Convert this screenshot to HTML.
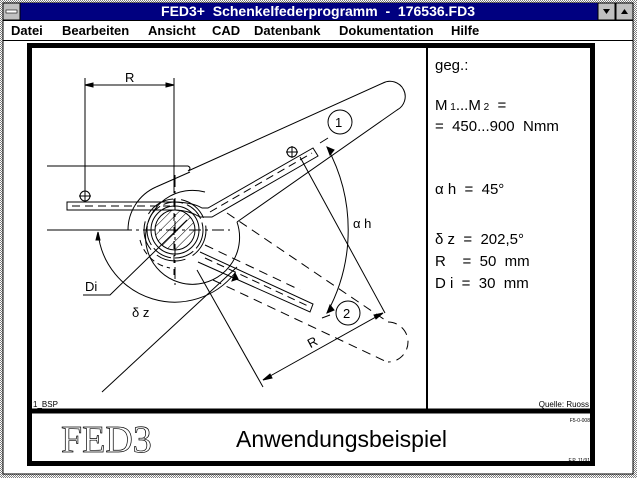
<!DOCTYPE html>
<html><head><meta charset="utf-8"><style>
body{margin:0;width:637px;height:478px;overflow:hidden;background:#fff;font-family:"Liberation Sans",sans-serif}
text{white-space:pre}
</style></head><body>
<svg width="637" height="478" xmlns="http://www.w3.org/2000/svg" font-family="Liberation Sans, sans-serif">
<defs>
<pattern id="hat" width="2" height="2" patternUnits="userSpaceOnUse"><rect width="2" height="2" fill="#fff"/><rect width="1" height="1" fill="#808080"/><rect x="1" y="1" width="1" height="1" fill="#808080"/></pattern>
<pattern id="sh" width="6" height="6" patternUnits="userSpaceOnUse" patternTransform="rotate(45)"><line x1="0" y1="0" x2="0" y2="6" stroke="#000" stroke-width="1"/></pattern>
</defs>
<rect width="637" height="478" fill="url(#hat)"/>
<rect x="3" y="3" width="630" height="471" fill="#fff" stroke="#000"/>
<rect x="3" y="3" width="630" height="17" fill="#000080"/>
<rect x="3" y="3" width="17" height="17" fill="#c0c0c0" stroke="#000"/>
<rect x="6" y="10" width="11" height="3" fill="#fff" stroke="#000" stroke-width="0.6"/>
<rect x="598" y="3" width="17" height="17" fill="#c0c0c0" stroke="#000"/>
<rect x="616" y="3" width="17" height="17" fill="#c0c0c0" stroke="#000"/>
<path d="M603,9 L610,9 L606.5,14z" fill="#000"/><path d="M621,14 L628,14 L624.5,9z" fill="#000"/>
<text x="318" y="16" fill="#fff" font-size="14" font-weight="bold" text-anchor="middle">FED3+  Schenkelfederprogramm  -  176536.FD3</text>
<line x1="3" y1="20.5" x2="633" y2="20.5" stroke="#000"/>
<g font-size="13" font-weight="bold">
<text x="11" y="35">Datei</text><text x="62" y="35">Bearbeiten</text><text x="148" y="35">Ansicht</text><text x="212" y="35">CAD</text><text x="254" y="35">Datenbank</text><text x="339" y="35">Dokumentation</text><text x="451" y="35">Hilfe</text>
</g>
<line x1="3" y1="40.5" x2="633" y2="40.5" stroke="#000"/>
<rect x="29.5" y="45.5" width="563" height="418" fill="none" stroke="#000" stroke-width="5"/>
<line x1="27" y1="411" x2="595" y2="411" stroke="#000" stroke-width="5"/>
<line x1="427" y1="46" x2="427" y2="410" stroke="#000" stroke-width="2"/>
<g stroke="#000" stroke-width="1" fill="none">
<line x1="85" y1="85" x2="174" y2="85"/>
<path d="M85,85 l8,-2 v4z M174,85 l-8,-2 v4z" fill="#000"/>
<line x1="85" y1="78" x2="85" y2="192"/>
<line x1="174" y1="78" x2="174" y2="185"/>
<line x1="174" y1="185" x2="174" y2="275" stroke-dasharray="8,6"/>
<circle cx="85" cy="196" r="5"/><line x1="79" y1="196" x2="91" y2="196"/><line x1="85" y1="190" x2="85" y2="202"/>
<line x1="47" y1="166" x2="188" y2="166"/>
<line x1="47" y1="230" x2="132" y2="230"/>
<path d="M188,166 q4,2 0,5 L383,83 a15,15 0 0 1 14,27 L237,222"/>
<path d="M128,230 a47,47 0 0 1 28,-43"/>
<path d="M156,187 L190,172"/>
<path d="M237,222 a47,47 0 1 1 -32,-30"/>
<g stroke-dasharray="9,6">
<line x1="227" y1="213" x2="388" y2="322"/>
<line x1="213" y1="280" x2="387" y2="362"/>
<path d="M388,322 a15,15 0 0 1 0,40"/>
<line x1="205" y1="245" x2="300" y2="290"/>
</g>
<path d="M67,202 H172 q20,0 30,6 H208 L313,148 L318,156 L212,217 H200 q-12,-7 -25,-7 H67z"/>
<line x1="72" y1="206" x2="170" y2="206" stroke-dasharray="8,5"/>
<line x1="210" y1="212" x2="312" y2="153" stroke-dasharray="8,5"/>
<path d="M200,252 L313,304 L310,312 L198,262"/>
<line x1="205" y1="258" x2="308" y2="306" stroke-dasharray="8,5"/>
<circle cx="292" cy="152" r="5"/><line x1="286" y1="152" x2="298" y2="152"/><line x1="292" y1="146" x2="292" y2="158"/>
<circle cx="175" cy="230" r="20" fill="url(#sh)"/>
<circle cx="175" cy="230" r="24"/>
<circle cx="175" cy="230" r="28" stroke-dasharray="20,4"/>
<circle cx="175" cy="230" r="31" stroke-dasharray="30,8"/>
<path d="M140,240 a38,38 0 0 0 30,28" stroke-dasharray="6,4"/>
<line x1="120" y1="230" x2="230" y2="230" stroke-dasharray="12,4,3,4"/>
<line x1="175" y1="175" x2="175" y2="285" stroke-dasharray="12,4,3,4"/>
<path d="M98,232 A77,77 0 0 0 235,273"/>
<path d="M98,232 l-2,8 h4z M235,273 l-3,8 l6,-2z" fill="#000"/>
<path d="M327,147 A173,173 0 0 1 327,313"/>
<path d="M327,147 l3,8 l4,-5z M327,313 l3,-8 l4,5z" fill="#000"/>
<line x1="320" y1="143" x2="328" y2="138"/>
<line x1="322" y1="318" x2="330" y2="315"/>
<line x1="300" y1="157" x2="385" y2="313"/>
<line x1="197" y1="270" x2="263" y2="387"/>
<line x1="263" y1="380" x2="383" y2="313"/>
<path d="M263,380 l7,-6 l2,4z M383,313 l-7,6 l-2,-4z" fill="#000"/>
<line x1="102" y1="392" x2="237" y2="267"/>
<path d="M83,295 H110 L187,220"/>
<circle cx="340" cy="122" r="12"/><circle cx="348" cy="313" r="12"/>
</g>
<g font-size="13" fill="#000">
<text x="125" y="82">R</text>
<text x="335" y="127">1</text><text x="343" y="318">2</text>
<text x="353" y="228">α h</text>
<text x="85" y="291">Di</text>
<text x="132" y="317">δ z</text>
<text x="308" y="347" transform="rotate(-28 312 343)">R</text>
</g>
<text x="33" y="407" font-size="8">1_BSP</text>
<text x="589" y="407" font-size="8" text-anchor="end">Quelle: Ruoss</text>
<text x="590" y="422" font-size="5" text-anchor="end">F5-0-008</text>
<text x="590" y="462" font-size="5" text-anchor="end">F.P. 11/91</text>
<g font-size="15" fill="#000">
<text x="435" y="70">geg.:</text>
<text x="435" y="110">M<tspan font-size="10"> 1</tspan>...M<tspan font-size="10"> 2</tspan>  =</text>
<text x="435" y="131">=  450...900  Nmm</text>
<text x="435" y="194">α h  =  45°</text>
<text x="435" y="244">δ z  =  202,5°</text>
<text x="435" y="266">R    =  50  mm</text>
<text x="435" y="288">D i  =  30  mm</text>
</g>
<text x="61" y="452" font-family="Liberation Serif, serif" font-size="38" fill="#fff" stroke="#000" stroke-width="0.7">FED3</text>
<text x="236" y="447" font-size="23" fill="#000">Anwendungsbeispiel</text>
</svg>
</body></html>
